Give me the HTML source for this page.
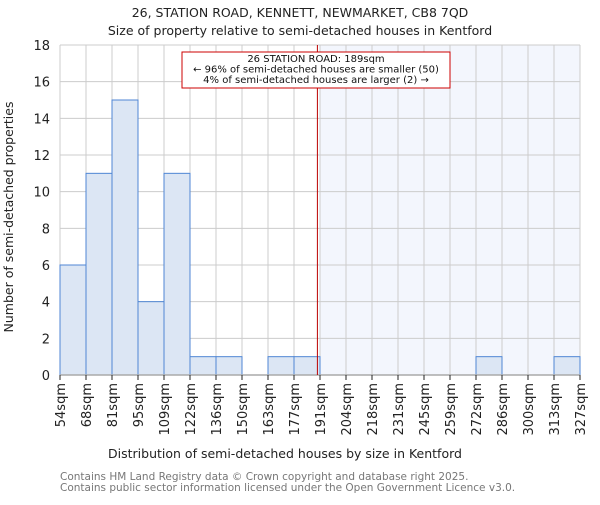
<!DOCTYPE html>
<html><head><meta charset="utf-8"><style>body{margin:0;background:#fff}svg text{font-family:"DejaVu Sans","Liberation Sans",sans-serif}</style></head>
<body>
<svg id="c" width="600" height="500" xmlns="http://www.w3.org/2000/svg">
<text x="300" y="17" text-anchor="middle" font-size="12.5" fill="#222">26, STATION ROAD, KENNETT, NEWMARKET, CB8 7QD</text>
<text x="300" y="35" text-anchor="middle" font-size="12.5" fill="#222">Size of property relative to semi-detached houses in Kentford</text>
<g id="plot"></g>
<text x="285" y="458" text-anchor="middle" font-size="12.5" fill="#222">Distribution of semi-detached houses by size in Kentford</text>
<text transform="translate(13,217) rotate(-90)" text-anchor="middle" font-size="12.5" fill="#222">Number of semi-detached properties</text>
<text x="60" y="480" font-size="10.5" fill="#777">Contains HM Land Registry data © Crown copyright and database right 2025.</text>
<text x="60" y="491" font-size="10.5" fill="#777">Contains public sector information licensed under the Open Government Licence v3.0.</text>
</svg>
<script>
const binLabels=["54sqm","68sqm","81sqm","95sqm","109sqm","122sqm","136sqm","150sqm","163sqm","177sqm","191sqm","204sqm","218sqm","231sqm","245sqm","259sqm","272sqm","286sqm","300sqm","313sqm","327sqm"];
const counts=[6,11,15,4,11,1,1,0,1,1,0,0,0,0,0,0,1,0,0,1];
const yTicks=[0,2,4,6,8,10,12,14,16,18];
const markerIndex=9.9;
const NS="http://www.w3.org/2000/svg";
const g=document.getElementById('plot');
const X0=60,BW=26,Y0=375,YT=45,YMAX=18;
const xs=i=>X0+i*BW;
const ys=v=>Y0-(Y0-YT)*v/YMAX;
function mk(t,a,p){const e=document.createElementNS(NS,t);for(const k in a)e.setAttribute(k,a[k]);(p||g).appendChild(e);return e;}
const n=counts.length;
const mx=xs(markerIndex);
let e=mk('rect',{x:mx+2,y:YT,width:xs(n)-mx-2,height:Y0-YT,fill:'#f3f6fd'});


for(const t of yTicks){
 e=mk('line',{x1:X0,x2:xs(n),y1:ys(t),y2:ys(t),stroke:'#ccc','stroke-width':1});
 
 
 e=mk('text',{x:X0-10,y:ys(t)+5,'text-anchor':'end','font-size':13,fill:'#222'});
 e.textContent=t;
 
 
}
for(let i=0;i<=n;i++){
 e=mk('line',{x1:xs(i),x2:xs(i),y1:YT,y2:Y0,stroke:'#ccc','stroke-width':1});
 
 
}
counts.forEach((c,i)=>{
 if(c<=0)return;
 e=mk('rect',{x:xs(i),y:ys(c),width:BW,height:Y0-ys(c),fill:'#dce6f4',stroke:'#4f86d4','stroke-width':1});
 
 
});
e=mk('line',{x1:X0,x2:xs(n),y1:Y0,y2:Y0,stroke:'#aaa','stroke-width':1.5});


binLabels.forEach((l,i)=>{
 e=mk('line',{x1:xs(i),x2:xs(i),y1:Y0,y2:Y0+5,stroke:'#222'});
 
 
 e=mk('text',{transform:`translate(${xs(i)+5},${Y0+8}) rotate(-90)`,'text-anchor':'end','font-size':13,fill:'#222'});
 e.textContent=l;
 
 
});
e=mk('line',{x1:mx,x2:mx,y1:YT,y2:Y0,stroke:'#b00','stroke-width':1});


e=mk('rect',{x:182,y:52,width:268,height:36,fill:'#fff',stroke:'#c00','stroke-width':1});


const ann=["26 STATION ROAD: 189sqm","← 96% of semi-detached houses are smaller (50)","4% of semi-detached houses are larger (2) →"];
ann.forEach((t,i)=>{
 e=mk('text',{x:316,y:62+i*10.5,'text-anchor':'middle','font-size':10,fill:'#111'});
 e.textContent=t;
 
 
});
</script>
</body></html>
